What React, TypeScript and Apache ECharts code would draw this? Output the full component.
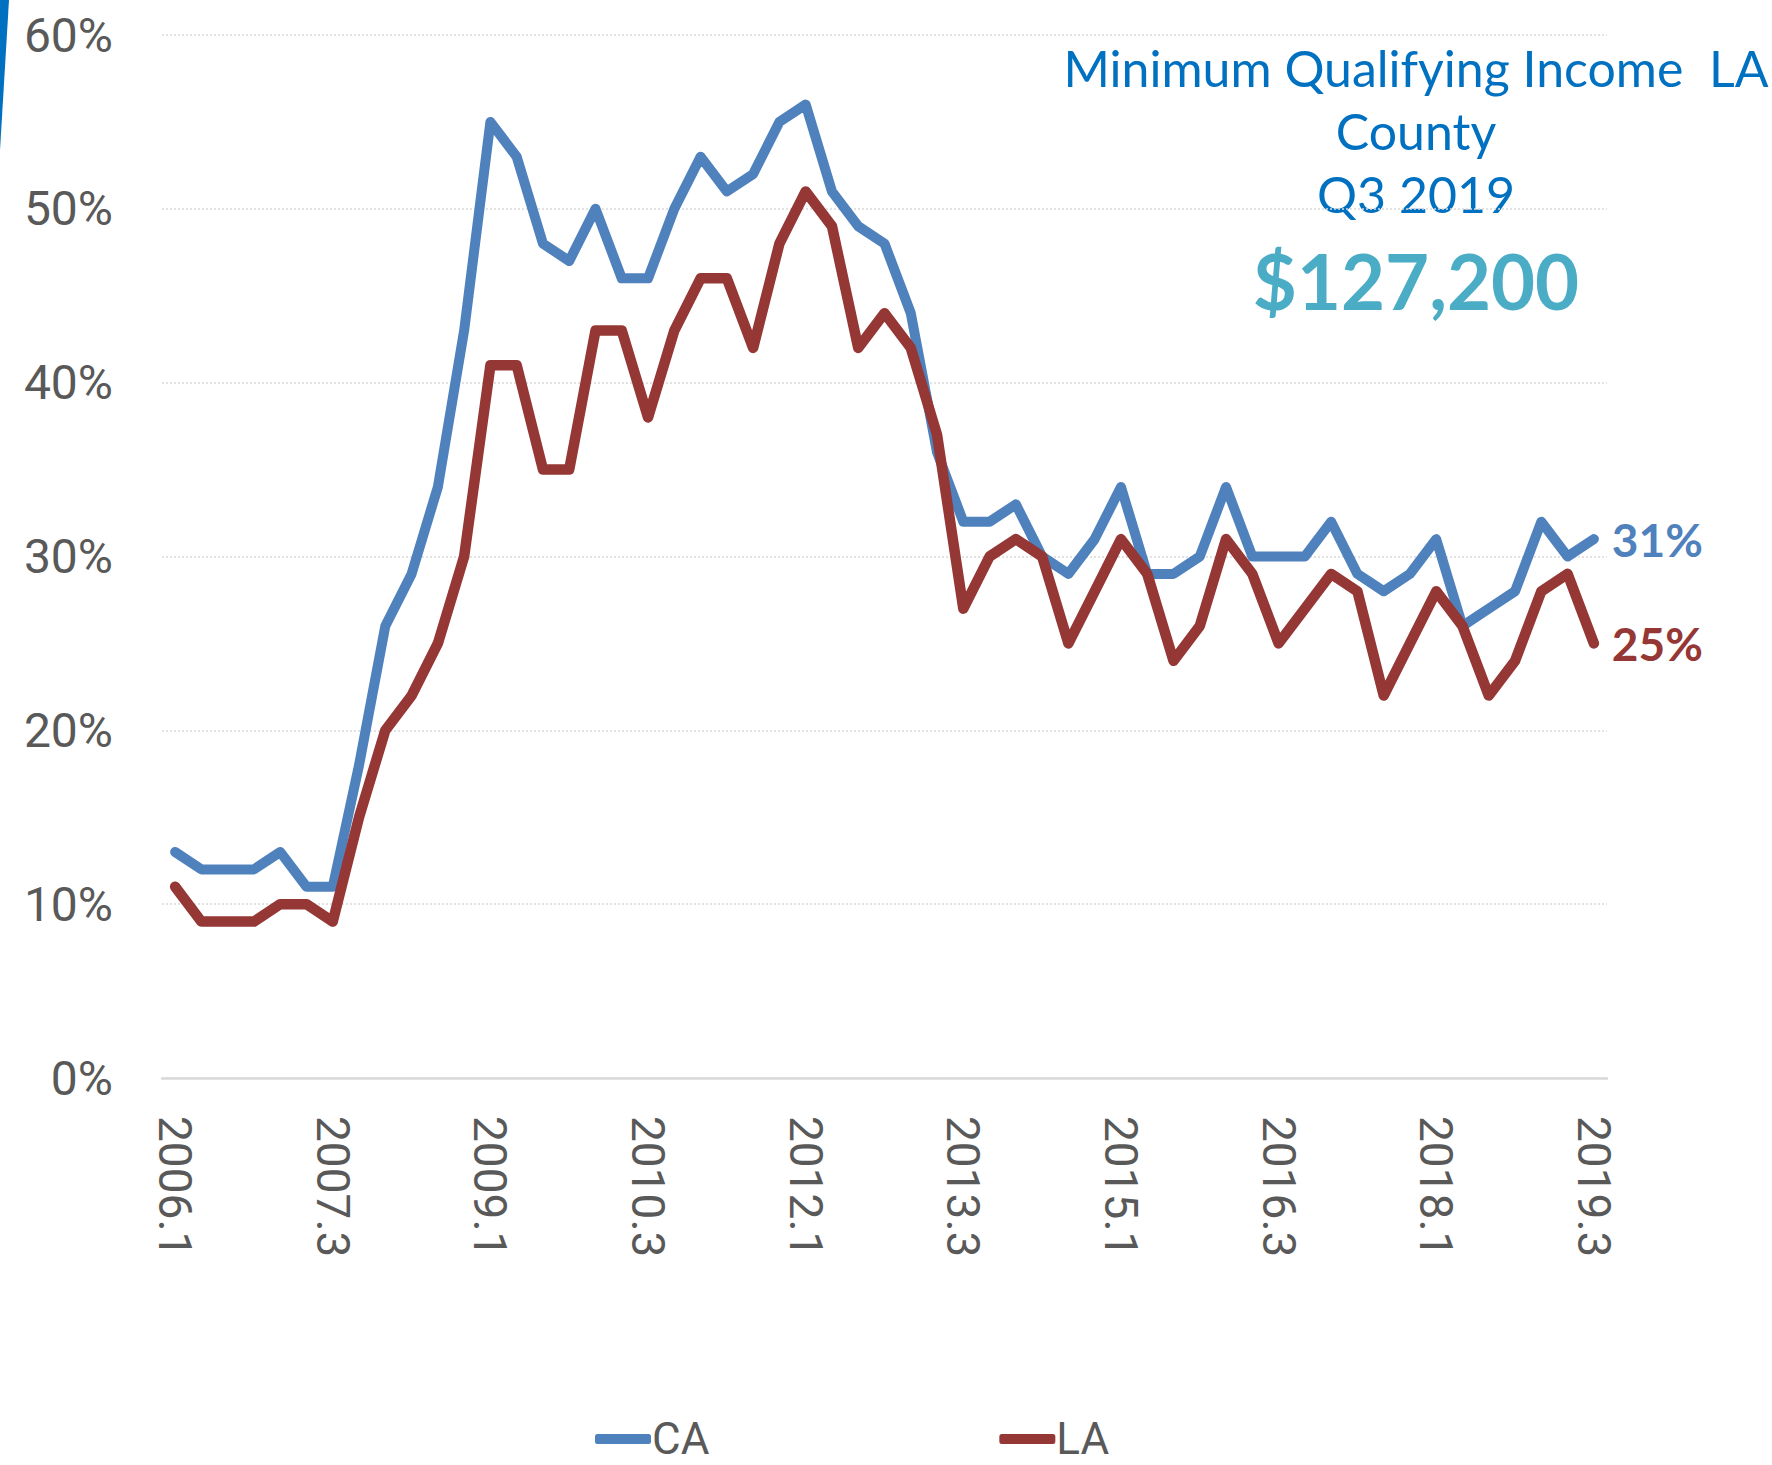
import React, { useEffect, useRef } from "react";
import * as echarts from "echarts";

const categories = [
  "2006.1","2006.2","2006.3","2006.4",
  "2007.1","2007.2","2007.3","2007.4",
  "2008.1","2008.2","2008.3","2008.4",
  "2009.1","2009.2","2009.3","2009.4",
  "2010.1","2010.2","2010.3","2010.4",
  "2011.1","2011.2","2011.3","2011.4",
  "2012.1","2012.2","2012.3","2012.4",
  "2013.1","2013.2","2013.3","2013.4",
  "2014.1","2014.2","2014.3","2014.4",
  "2015.1","2015.2","2015.3","2015.4",
  "2016.1","2016.2","2016.3","2016.4",
  "2017.1","2017.2","2017.3","2017.4",
  "2018.1","2018.2","2018.3","2018.4",
  "2019.1","2019.2","2019.3",
];

const caValues = [
  13,12,12,12,13,11,11,18,26,29,
  34,43,55,53,48,47,50,46,46,50,
  53,51,52,55,56,51,49,48,44,36,
  32,32,33,30,29,31,34,29,29,30,
  34,30,30,30,32,29,28,29,31,26,
  27,28,32,30,31,
];

const laValues = [
  11,9,9,9,10,10,9,15,20,22,
  25,30,41,41,35,35,43,43,38,43,
  46,46,42,48,51,49,42,44,42,37,
  27,30,31,30,25,28,31,29,24,26,
  31,29,25,27,29,28,22,25,28,26,
  22,24,28,29,25,
];

const seriesNames = ["CA", "LA"];
const titleLines = ["Minimum Qualifying Income  LA", "County", "Q3 2019"];
const headline = "$127,200";

const CA_COLOR = "#4F81BD";
const LA_COLOR = "#953735";
const AXIS_TEXT = "#595959";

export default function App() {
  const ref = useRef<HTMLDivElement>(null);

  useEffect(() => {
    if (!ref.current) return;
    const chart = echarts.init(ref.current, null, { renderer: "svg" });
    chart.setOption({
      animation: false,
      backgroundColor: "#ffffff",
      grid: { left: 162, right: 165, top: 35, bottom: 387, containLabel: false },
      xAxis: {
        type: "category",
        data: categories,
        boundaryGap: true,
        axisLine: { show: true, lineStyle: { color: "#D9D9D9", width: 2.5 } },
        axisTick: { show: false },
        axisLabel: {
          interval: 5,
          rotate: -90,
          margin: 38,
          color: AXIS_TEXT,
          fontFamily: "Roboto",
          fontSize: 46,
        },
        splitLine: { show: false },
      },
      yAxis: {
        type: "value",
        min: 0,
        max: 60,
        interval: 10,
        axisLine: { show: false },
        axisTick: { show: false },
        axisLabel: {
          formatter: "{value}%",
          margin: 49,
          color: AXIS_TEXT,
          fontFamily: "Roboto",
          fontSize: 48,
        },
        splitLine: {
          show: true,
          lineStyle: { color: "#D9D9D9", width: 1.5, type: [2, 2] },
        },
      },
      legend: {
        data: seriesNames,
        left: 590,
        top: 1412,
        icon: "roundRect",
        itemWidth: 56,
        itemHeight: 10,
        itemGap: 290,
        textStyle: { color: AXIS_TEXT, fontFamily: "Roboto", fontSize: 44, padding: [0, 0, 0, -4] },
      },
      series: [
        {
          name: seriesNames[0],
          type: "line",
          data: caValues,
          symbol: "none",
          color: CA_COLOR,
          lineStyle: { color: CA_COLOR, width: 10, cap: "round", join: "round" },
          endLabel: {
            show: true,
            distance: 18,
            formatter: (p: any) => `${p.value}%`,
            color: CA_COLOR,
            fontFamily: "Lato",
            fontWeight: "bold",
            fontSize: 46,
          },
        },
        {
          name: seriesNames[1],
          type: "line",
          data: laValues,
          symbol: "none",
          color: LA_COLOR,
          lineStyle: { color: LA_COLOR, width: 10.5, cap: "round", join: "round" },
          endLabel: {
            show: true,
            distance: 18,
            formatter: (p: any) => `${p.value}%`,
            color: LA_COLOR,
            fontFamily: "Lato",
            fontWeight: "bold",
            fontSize: 46,
          },
        },
      ],
      graphic: [
        {
          type: "polygon",
          shape: { points: [[0, 0], [9, 0], [0, 150]] },
          style: { fill: "#0070C0" },
        },
        ...titleLines.map((t, i) => ({
          type: "text",
          x: 1416,
          y: 68 + i * 63,
          style: {
            text: t,
            fill: "#0070C0",
            font: "50px Lato",
            textAlign: "center",
            textVerticalAlign: "middle",
          },
        })),
        {
          type: "text",
          x: 1416,
          y: 280,
          style: {
            text: headline,
            fill: "#4BACC6",
            font: "bold 76px Lato",
            textAlign: "center",
            textVerticalAlign: "middle",
          },
        },
      ],
    });
    return () => chart.dispose();
  }, []);

  return (
    <div
      ref={ref}
      style={{ position: "fixed", left: 0, top: 0, width: 1772, height: 1465 }}
    />
  );
}
